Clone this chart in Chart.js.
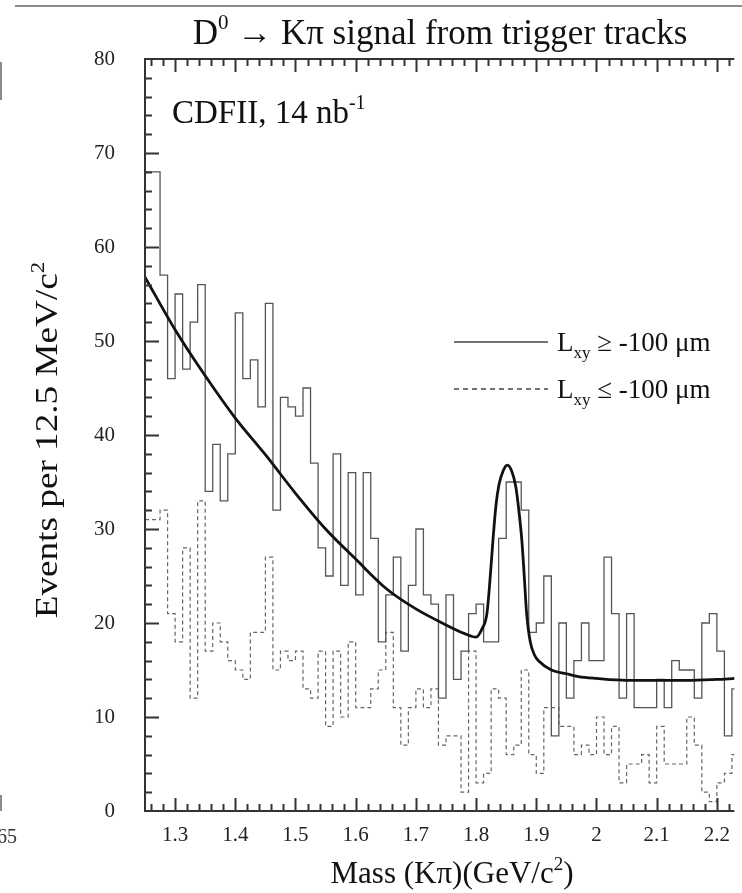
<!DOCTYPE html>
<html>
<head>
<meta charset="utf-8">
<script src="https://cdn.jsdelivr.net/npm/chart.js@4.4.1/dist/chart.umd.min.js"></script>
<style>
  html, body { margin: 0; padding: 0; background: #fff; }
  canvas { display: block; }
</style>
</head>
<body>
<canvas id="myChart" width="742" height="893"></canvas>
<script>
// histogram binning: 12.5 MeV bins starting at 1.25 GeV
const binStart = 1.25
const binWidth = 0.0125

// events per bin, Lxy >= -100 um (solid)
const solidCounts = [
  68, 57, 46, 55, 47, 52, 56, 34, 39, 33,
  38, 53, 46, 48, 43, 54, 32, 44, 43, 42,
  45, 37, 28, 25, 38, 24, 36, 23, 36, 29,
  18, 23, 27, 17, 24, 30, 23, 22, 12, 23,
  14, 17, 21, 22, 18, 18, 29, 35, 35, 32,
  19, 20, 25, 8, 20, 12, 16, 20, 16, 16,
  27, 21, 12, 21, 11, 11, 11, 14, 11, 16,
  15, 15, 12, 20, 21, 17, 8, 13, 13
]

// events per bin, Lxy <= -100 um (dashed)
const dashedCounts = [
  31, 32, 21, 18, 28, 12, 33, 17, 20, 18,
  16, 15, 14, 19, 19, 27, 15, 17, 16, 17,
  13, 12, 17, 9, 17, 10, 18, 11, 11, 13,
  15, 19, 11, 7, 11, 13, 11, 13, 7, 8,
  8, 2, 17, 3, 4, 13, 12, 6, 7, 15,
  6, 4, 11, 11, 9, 9, 6, 7, 6, 10,
  6, 9, 3, 5, 5, 6, 3, 9, 5, 5,
  5, 10, 7, 2, 1, 3, 4, 6, 6
]

// fitted curve (background + D0 peak)
const fitMass = [
  1.25, 1.30, 1.35, 1.40, 1.45, 1.50, 1.55, 1.60, 1.65, 1.70,
  1.75, 1.78, 1.80, 1.81, 1.818, 1.823, 1.828, 1.833, 1.838, 1.845,
  1.852, 1.859, 1.866, 1.871, 1.876, 1.880, 1.884, 1.890, 1.897, 1.905,
  1.925, 1.95, 1.97, 2.00, 2.05, 2.10, 2.15, 2.20, 2.23
]
const fitValue = [
  56.8, 51.2, 46.3, 41.8, 37.9, 33.8, 30.0, 26.8, 23.7, 21.5,
  19.8, 18.9, 18.5, 19.4, 21.0, 24.5, 28.8, 32.5, 34.7, 36.2,
  36.8, 36.2, 34.5, 32.0, 28.8, 25.0, 21.0, 18.0, 16.6, 15.9,
  15.0, 14.6, 14.3, 14.1, 13.9, 13.9, 13.9, 14.0, 14.1
]

// axis ticks
const xTicks = [1.3, 1.4, 1.5, 1.6, 1.7, 1.8, 1.9, 2.0, 2.1, 2.2]
const xTickLabels = ['1.3', '1.4', '1.5', '1.6', '1.7', '1.8', '1.9', '2', '2.1', '2.2']
const yTicks = [0, 10, 20, 30, 40, 50, 60, 70, 80]

const SERIF = '"Liberation Serif", "DejaVu Serif", serif'

// stepped outline: first point at the low edge, then one point per bin high edge
function histPoints (counts) {
  const pts = [{ x: binStart, y: counts[0] }]
  counts.forEach((c, i) => pts.push({ x: binStart + (i + 1) * binWidth, y: c }))
  return pts
}

// text with sub/superscripts: parts = [[text, size, dy], ...]
function drawRich (ctx, parts, x, y, align) {
  let w = 0
  parts.forEach(p => {
    ctx.font = p[1] + 'px ' + SERIF
    w += ctx.measureText(p[0]).width
  })
  let cx = align === 'center' ? x - w / 2 : x
  ctx.textAlign = 'left'
  ctx.textBaseline = 'alphabetic'
  parts.forEach(p => {
    ctx.font = p[1] + 'px ' + SERIF
    ctx.fillText(p[0], cx, y + (p[2] || 0))
    cx += ctx.measureText(p[0]).width
  })
  return w
}

const framePlugin = {
  id: 'frame',
  afterDraw (chart) {
    const { ctx, chartArea: a, scales: { x, y } } = chart
    ctx.save()

    // axes
    ctx.strokeStyle = '#333'
    ctx.lineWidth = 2
    ctx.beginPath()
    ctx.moveTo(a.right, a.top)
    ctx.lineTo(a.left, a.top)
    ctx.lineTo(a.left, a.bottom)
    ctx.lineTo(a.right, a.bottom)
    ctx.stroke()

    // x ticks (bottom and mirrored on top), pointing inward
    ctx.beginPath()
    for (let i = 0; i <= 50; i++) {
      const v = 1.26 + i * 0.02
      if (v > x.max) break
      const px = Math.round(x.getPixelForValue(v)) + 0.5
      const major = Math.abs(v * 10 - Math.round(v * 10)) < 1e-6
      const len = major ? 13 : 7
      ctx.moveTo(px, a.bottom)
      ctx.lineTo(px, a.bottom - len)
      ctx.moveTo(px, a.top)
      ctx.lineTo(px, a.top + len)
    }
    // y ticks
    for (let v = 2; v < 80; v += 2) {
      const py = Math.round(y.getPixelForValue(v)) + 0.5
      const len = v % 10 === 0 ? 14 : 7
      ctx.moveTo(a.left, py)
      ctx.lineTo(a.left + len, py)
    }
    ctx.stroke()

    ctx.fillStyle = '#111'

    // title
    drawRich(ctx, [['D', 35], ['0', 21, -15], [' \u2192 K\u03c0 signal from trigger tracks', 35]], 440, 44, 'center')

    // annotation
    drawRich(ctx, [['CDFII, 14 nb', 33], ['-1', 20, -14]], 172, 123, 'left')

    // legend
    ctx.strokeStyle = '#444'
    ctx.lineWidth = 1.3
    ctx.beginPath()
    ctx.moveTo(454, 342)
    ctx.lineTo(548, 342)
    ctx.stroke()
    ctx.setLineDash([5, 4])
    ctx.beginPath()
    ctx.moveTo(454, 389)
    ctx.lineTo(548, 389)
    ctx.stroke()
    ctx.setLineDash([])
    drawRich(ctx, [['L', 27], ['xy', 17, 7], [' \u2265 -100 \u03bcm', 27]], 557, 351, 'left')
    drawRich(ctx, [['L', 27], ['xy', 17, 7], [' \u2264 -100 \u03bcm', 27]], 557, 398, 'left')

    // x axis title
    drawRich(ctx, [['Mass (K\u03c0)(GeV/c', 31], ['2', 19, -13], [')', 31]], 452, 883, 'center')

    // y axis title (rotated)
    ctx.save()
    ctx.translate(47, 440)
    ctx.rotate(-Math.PI / 2)
    ctx.scale(1.2, 1)
    drawRich(ctx, [['Events per 12.5 MeV/c', 31], ['2', 19, -13]], 0, 10, 'center')
    ctx.restore()

    // edge of neighbouring panel
    ctx.strokeStyle = '#666'
    ctx.lineWidth = 1.5
    ctx.beginPath()
    ctx.moveTo(15, 6)
    ctx.lineTo(742, 6)
    ctx.moveTo(1, 62)
    ctx.lineTo(1, 100)
    ctx.moveTo(1, 795)
    ctx.lineTo(1, 811)
    ctx.stroke()
    ctx.font = '20px ' + SERIF
    ctx.textAlign = 'right'
    ctx.textBaseline = 'middle'
    ctx.fillStyle = '#333'
    ctx.fillText('1.65', 17, 838)

    ctx.restore()
  }
}

const ctx = document.getElementById('myChart')
// eslint-disable-next-line no-unused-vars
const myChart = new Chart(ctx, {
  type: 'line',
  data: {
    datasets: [
      {
        label: 'fit',
        data: fitMass.map((m, i) => ({ x: m, y: fitValue[i] })),
        borderColor: '#111',
        borderWidth: 2.8,
        pointRadius: 0,
        cubicInterpolationMode: 'monotone',
        order: 0
      },
      {
        label: 'Lxy >= -100 um',
        data: histPoints(solidCounts),
        stepped: 'before',
        borderColor: '#555',
        borderWidth: 1.3,
        pointRadius: 0,
        order: 1
      },
      {
        label: 'Lxy <= -100 um',
        data: histPoints(dashedCounts),
        stepped: 'before',
        borderColor: '#666',
        borderWidth: 1.2,
        borderDash: [4, 3],
        pointRadius: 0,
        order: 2
      }
    ]
  },
  options: {
    responsive: false,
    animation: false,
    devicePixelRatio: 1,
    layout: { padding: { top: 59, right: 0, bottom: 0, left: 0 } },
    plugins: {
      legend: { display: false },
      tooltip: { enabled: false }
    },
    scales: {
      x: {
        type: 'linear',
        min: 1.25,
        max: 2.229,
        bounds: 'data',
        grid: { display: false, drawTicks: false },
        border: { display: false },
        afterBuildTicks: scale => { scale.ticks = xTicks.map(v => ({ value: v })) },
        afterFit: scale => { scale.height = 82 },
        ticks: {
          autoSkip: false,
          maxRotation: 0,
          padding: 12,
          color: '#222',
          font: { family: SERIF, size: 21 },
          callback: (v, i) => xTickLabels[i]
        }
      },
      y: {
        min: 0,
        max: 80,
        grid: { display: false, drawTicks: false },
        border: { display: false },
        afterBuildTicks: scale => { scale.ticks = yTicks.map(v => ({ value: v })) },
        afterFit: scale => { scale.width = 145 },
        ticks: {
          padding: 30,
          color: '#222',
          font: { family: SERIF, size: 21 }
        }
      }
    }
  },
  plugins: [framePlugin]
})
</script>
</body>
</html>
